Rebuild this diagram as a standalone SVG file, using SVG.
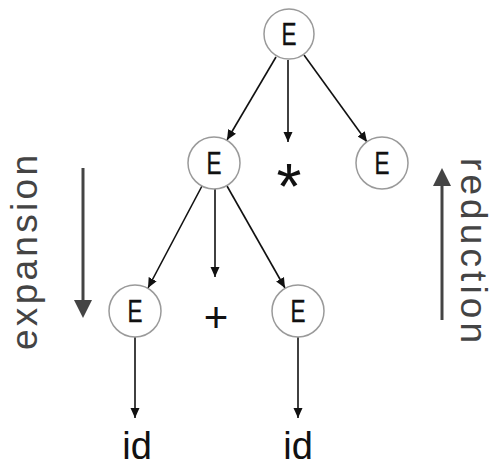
<svg xmlns="http://www.w3.org/2000/svg" width="494" height="468" viewBox="0 0 494 468">
<style>
.node circle{fill:#fff;stroke:#9a9a9a;stroke-width:1.5}
.node text{font-family:"Liberation Sans",Arial,sans-serif;font-size:32px;fill:#111;stroke:#111;stroke-width:0.4;text-anchor:middle}
.edge{stroke:#111;stroke-width:1.6;fill:none;marker-end:url(#ah)}
.big{stroke:#444;stroke-width:3;fill:none}
.sym{font-family:"Liberation Sans",Arial,sans-serif;fill:#111;text-anchor:middle}
.side{font-family:"Liberation Sans",Arial,sans-serif;font-size:37px;fill:#444}
</style>
<defs>
<marker id="ah" markerWidth="10" markerHeight="10" viewBox="0 0 10 10" refX="10" refY="5" orient="auto" markerUnits="userSpaceOnUse">
<path d="M0,0.5 L10,5 L0,9.5 z" fill="#111"/>
</marker>
</defs>
<g id="connectors">
<line class="edge" x1="276" y1="57" x2="227" y2="140"/>
<line class="edge" x1="288" y1="60" x2="288" y2="142"/>
<line class="edge" x1="304" y1="55" x2="367" y2="142"/>
<line class="edge" x1="202" y1="186" x2="148" y2="288"/>
<line class="edge" x1="215" y1="189" x2="215" y2="277"/>
<line class="edge" x1="227" y1="186" x2="285" y2="288"/>
<line class="edge" x1="135" y1="337" x2="135" y2="418"/>
<line class="edge" x1="298" y1="337" x2="298" y2="418"/>
</g>
<g id="n-root" class="node"><circle cx="289" cy="34" r="25"/><text x="289" y="45" textLength="15" lengthAdjust="spacingAndGlyphs">E</text></g>
<g id="n-e1" class="node"><circle cx="214" cy="163" r="26"/><text x="214" y="174" textLength="15" lengthAdjust="spacingAndGlyphs">E</text></g>
<g id="n-e2" class="node"><circle cx="382" cy="163" r="26"/><text x="382" y="174" textLength="15" lengthAdjust="spacingAndGlyphs">E</text></g>
<g id="n-e3" class="node"><circle cx="135" cy="311" r="26"/><text x="135" y="322" textLength="15" lengthAdjust="spacingAndGlyphs">E</text></g>
<g id="n-e4" class="node"><circle cx="298" cy="311" r="26"/><text x="298" y="322" textLength="15" lengthAdjust="spacingAndGlyphs">E</text></g>
<g id="n-star"><text class="sym" x="289" y="209" font-size="64">*</text></g>
<g id="n-plus"><text class="sym" x="216" y="332" font-size="42">+</text></g>
<g id="n-id1"><text class="sym" x="137" y="459" font-size="38">id</text></g>
<g id="n-id2"><text class="sym" x="298" y="459" font-size="38">id</text></g>
<g id="expansion">
<line class="big" x1="83" y1="168" x2="83" y2="302"/>
<path d="M74,300 L92,300 L83,318 z" fill="#444"/>
<text class="side" transform="translate(37,350) rotate(-90)" textLength="195" lengthAdjust="spacing">expansion</text>
</g>
<g id="reduction">
<line class="big" x1="442" y1="320" x2="442" y2="184"/>
<path d="M433,186 L451,186 L442,168 z" fill="#444"/>
<text class="side" transform="translate(461,158) rotate(90)" textLength="185" lengthAdjust="spacing">reduction</text>
</g>
</svg>
